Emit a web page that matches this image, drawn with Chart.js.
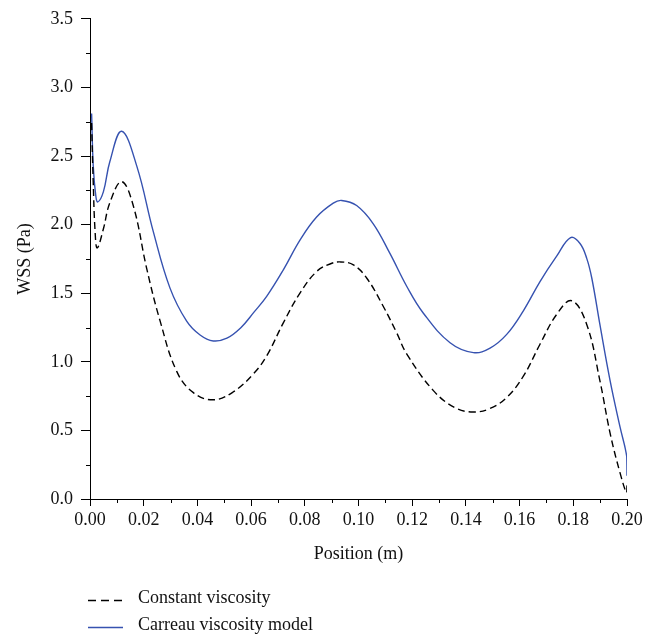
<!DOCTYPE html>
<html>
<head>
<meta charset="utf-8">
<script src="https://cdn.jsdelivr.net/npm/chart.js@4/dist/chart.umd.min.js"></script>
<style>
  html, body { margin: 0; padding: 0; background: #fff; }
  canvas { display: block; }
</style>
</head>
<body>
<canvas id="c" width="658" height="635"></canvas>
<script>
// Wall shear stress along the vessel, Newtonian vs. Carreau fluid
const constPos = [0.0006, 0.0012, 0.0019, 0.0027, 0.0050, 0.0074, 0.0118, 0.0161, 0.0211, 0.0261, 0.0323,
  0.0385, 0.0459, 0.0533, 0.0608, 0.0658, 0.0720, 0.0782, 0.0844, 0.0894, 0.0931, 0.0981, 0.1031,
  0.1092, 0.1142, 0.1180, 0.1279, 0.1360, 0.1428, 0.1490, 0.1552, 0.1614, 0.1676, 0.1738, 0.1794,
  0.1850, 0.1899, 0.1937, 0.1974, 0.1998, 0.2000];
const constWss = [2.74, 2.31, 1.95, 1.83, 1.97, 2.16, 2.313, 2.139, 1.681, 1.298, 0.93,
  0.775, 0.723, 0.78, 0.911, 1.043, 1.284, 1.501, 1.658, 1.713, 1.728, 1.706, 1.609,
  1.405, 1.212, 1.056, 0.790, 0.665, 0.634, 0.66, 0.74, 0.895, 1.128, 1.345, 1.445,
  1.272, 0.863, 0.480, 0.191, 0.046, 0.10];

const carreauPos = [0.0006, 0.0012, 0.0021, 0.0029, 0.0050, 0.0074, 0.0118, 0.0174, 0.0236, 0.0298, 0.0360,
  0.0410, 0.0459, 0.0510, 0.0560, 0.0610, 0.0658, 0.0720, 0.0782, 0.0844, 0.0906, 0.0937, 0.0993,
  0.1055, 0.1117, 0.1180, 0.1241, 0.1341, 0.1428, 0.1490, 0.1552, 0.1614, 0.1676, 0.1738, 0.1790,
  0.1825, 0.1850, 0.1869, 0.1899, 0.1937, 0.1974, 0.1999, 0.2000];
const carreauWss = [2.81, 2.43, 2.22, 2.165, 2.24, 2.46, 2.68, 2.428, 1.947, 1.537, 1.296,
  1.195, 1.152, 1.172, 1.245, 1.36, 1.477, 1.670, 1.887, 2.055, 2.156, 2.176, 2.139,
  2.006, 1.790, 1.549, 1.356, 1.139, 1.067, 1.10, 1.20, 1.372, 1.585, 1.770, 1.905,
  1.862, 1.754, 1.609, 1.272, 0.863, 0.525, 0.31, 0.17];

const xTickValues = [0, 0.02, 0.04, 0.06, 0.08, 0.10, 0.12, 0.14, 0.16, 0.18, 0.20];
const xTickLabels = ['0.00', '0.02', '0.04', '0.06', '0.08', '0.10', '0.12', '0.14', '0.16', '0.18', '0.20'];
const xMinorTicks = [0.01, 0.03, 0.05, 0.07, 0.09, 0.11, 0.13, 0.15, 0.17, 0.19];
const yTickValues = [0, 0.5, 1.0, 1.5, 2.0, 2.5, 3.0, 3.5];
const yTickLabels = ['0.0', '0.5', '1.0', '1.5', '2.0', '2.5', '3.0', '3.5'];
const yMinorTicks = [0.25, 0.75, 1.25, 1.75, 2.25, 2.75, 3.25];

const seriesNames = ['Constant viscosity', 'Carreau viscosity model'];

const serif = "'Liberation Serif', 'Times New Roman', serif";
const BLUE = '#3652b0';

const toPoints = (xs, ys) => xs.map((x, i) => ({ x, y: ys[i] }));

// small unlabeled ticks between the major ones
const minorTicks = {
  id: 'minorTicks',
  afterDraw(chart) {
    const { ctx, scales: { x, y } } = chart;
    ctx.save();
    ctx.strokeStyle = '#000';
    ctx.lineWidth = 1;
    ctx.beginPath();
    xMinorTicks.forEach(v => {
      const px = Math.round(x.getPixelForValue(v)) + 0.5;
      ctx.moveTo(px, y.bottom);
      ctx.lineTo(px, y.bottom + 4);
    });
    yMinorTicks.forEach(v => {
      const py = Math.round(y.getPixelForValue(v)) + 0.5;
      ctx.moveTo(x.left, py);
      ctx.lineTo(x.left - 4, py);
    });
    ctx.stroke();
    ctx.restore();
  }
};

// key stacked under the axis title
const stackedKey = {
  id: 'stackedKey',
  afterDraw(chart) {
    const ctx = chart.ctx;
    ctx.save();
    chart.data.datasets.forEach((ds, i) => {
      const yLine = 600.5 + i * 27;
      ctx.strokeStyle = ds.borderColor;
      ctx.lineWidth = ds.borderWidth;
      ctx.setLineDash(ds.borderDash && ds.borderDash.length ? [8, 5] : []);
      ctx.beginPath();
      ctx.moveTo(88, yLine);
      ctx.lineTo(123, yLine);
      ctx.stroke();
      ctx.setLineDash([]);
      ctx.fillStyle = '#111';
      ctx.font = '18px ' + serif;
      ctx.textBaseline = 'middle';
      ctx.textAlign = 'left';
      ctx.fillText(ds.label, 138, yLine - 2);
    });
    ctx.restore();
  }
};

new Chart(document.getElementById('c'), {
  type: 'line',
  data: {
    datasets: [
      {
        label: seriesNames[0],
        data: toPoints(constPos, constWss),
        borderColor: '#000',
        borderWidth: 1.4,
        borderDash: [7, 4],
        pointRadius: 0,
        fill: false,
        tension: 0.4
      },
      {
        label: seriesNames[1],
        data: toPoints(carreauPos, carreauWss),
        borderColor: BLUE,
        borderWidth: 1.4,
        pointRadius: 0,
        fill: false,
        tension: 0.4
      }
    ]
  },
  options: {
    responsive: false,
    animation: false,
    devicePixelRatio: 1,
    layout: { padding: { top: 15, right: 31, left: 0, bottom: 0 } },
    plugins: {
      legend: { display: false },
      tooltip: { enabled: false }
    },
    scales: {
      x: {
        type: 'linear',
        min: 0,
        max: 0.2,
        afterBuildTicks: s => { s.ticks = xTickValues.map(v => ({ value: v })); },
        afterFit: s => { s.height = 136; },
        ticks: {
          callback: (v, i) => xTickLabels[i],
          color: '#111',
          font: { family: serif, size: 18 },
          padding: 3,
          maxRotation: 0,
          autoSkip: false
        },
        grid: { display: true, drawOnChartArea: false, drawTicks: true, tickLength: 7, color: '#000', lineWidth: 1 },
        border: { display: true, color: '#000', width: 1 },
        title: {
          display: true,
          text: 'Position (m)',
          color: '#111',
          font: { family: serif, size: 18 },
          padding: { top: 0, bottom: 70 }
        }
      },
      y: {
        type: 'linear',
        min: 0,
        max: 3.5,
        afterBuildTicks: s => { s.ticks = yTickValues.map(v => ({ value: v })); },
        afterFit: s => { s.width = 90; },
        ticks: {
          callback: (v, i) => yTickLabels[i],
          color: '#111',
          font: { family: serif, size: 18 },
          padding: 8,
          autoSkip: false
        },
        grid: { display: true, drawOnChartArea: false, drawTicks: true, tickLength: 9, color: '#000', lineWidth: 1 },
        border: { display: true, color: '#000', width: 1 },
        title: {
          display: true,
          text: 'WSS (Pa)',
          color: '#111',
          font: { family: serif, size: 18 },
          padding: { top: 14, bottom: 0 }
        }
      }
    }
  },
  plugins: [minorTicks, stackedKey]
});
</script>
</body>
</html>
